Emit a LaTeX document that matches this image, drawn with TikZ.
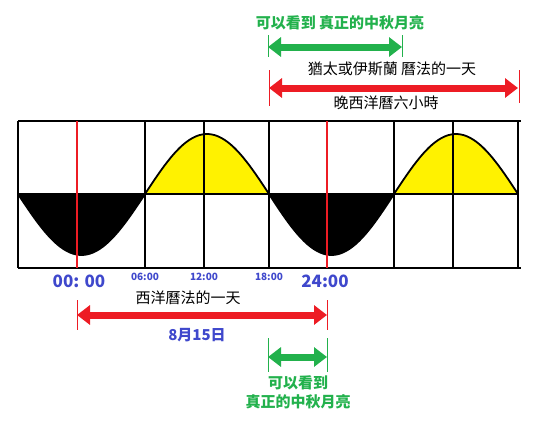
\documentclass[tikz,border=0pt]{standalone}
\usepackage{fontspec}
\usepackage{xcolor}
\usetikzlibrary{arrows.meta}
\newfontfamily\cjk{Noto Sans CJK TC}
\definecolor{dayred}{HTML}{ED1C24}
\definecolor{moongreen}{HTML}{22B14C}
\definecolor{timeblue}{HTML}{3F48CC}
\definecolor{sunyellow}{HTML}{FFF200}

\begin{document}
\begin{tikzpicture}[
    x=1pt, y=-1pt,
    gridline/.style={
        line width=2pt,
        black
    },
    midnight/.style={
        line width=1.5pt,
        dayred
    },
    wave/.style={
        line width=1.8pt,
        black,
        line join=round
    },
    spanarrow/.style={
        {Triangle[length=13pt,width=19pt]}-{Triangle[length=13pt,width=19pt]},
        line width=7pt
    },
    endmark/.style={
        line width=0.8pt
    },
    daytext/.style={
        inner sep=0pt,
        font=\cjk\fontsize{15}{19}\selectfont
    },
    moontext/.style={
        inner sep=0pt,
        align=center,
        text=moongreen,
        font=\cjk\bfseries\fontsize{15}{19}\selectfont
    },
    bigtime/.style={
        inner sep=0pt,
        text=timeblue,
        font=\cjk\bfseries\fontsize{17}{20}\selectfont
    },
    smalltime/.style={
        inner sep=0pt,
        text=timeblue,
        font=\cjk\bfseries\fontsize{10}{12}\selectfont
    }
]
\useasboundingbox (0,0) rectangle (560,432);

% Day and night waves
\foreach \a/\b/\s/\c in {18/145/61/black, 145/269/-60/sunyellow, 269/394/61/black, 394/518/-60/sunyellow}{
    \fill[\c] (\a,194) -- plot[domain=0:180,samples=40] ({\a+(\b-\a)/180*\x},{194+\s*sin(\x)}) -- cycle;
    \draw[wave] plot[domain=0:180,samples=40] ({\a+(\b-\a)/180*\x},{194+\s*sin(\x)});
}

% Grid
\draw[gridline] (18,121) -- (521,121);
\draw[gridline] (18,194) -- (518,194);
\draw[gridline] (18,268) -- (521,268);
\foreach \x in {18,145,204,269,394,453,518}
    \draw[gridline] (\x,121) -- (\x,268);

% Midnight lines
\draw[midnight] (77,121) -- (77,268);
\draw[midnight] (327,121) -- (327,268);

% Time labels
\node[bigtime] (t00) at (79,281) {00: 00};
\node[smalltime] (t06) at (145,277) {06:00};
\node[smalltime] (t12) at (204,277) {12:00};
\node[smalltime] (t18) at (269,277) {18:00};
\node[bigtime] (t24) at (325,281) {24:00};

% Western day
\coordinate (wdL) at (77,315);
\coordinate (wdR) at (327,315);
\draw[endmark, dayred] (77,300) -- (77,330);
\draw[endmark, dayred] (327,300) -- (327,330);
\draw[spanarrow, dayred] (wdL) -- (wdR);
\node[daytext] (wday) at (188,298) {西洋曆法的一天};
\node[bigtime, font=\cjk\bfseries\fontsize{15}{19}\selectfont] (wdate) at (197,335) {8月15日};

% Moon seen, below
\coordinate (mbL) at (268,357);
\coordinate (mbR) at (327,357);
\draw[endmark, moongreen] (268,338) -- (268,372);
\draw[endmark, moongreen] (327,338) -- (327,372);
\draw[spanarrow, moongreen] (mbL) -- (mbR);
\node[moontext] (mbtext) at (298,392) {可以看到\\真正的中秋月亮};

% Jewish or Islamic day
\coordinate (jdL) at (269,88);
\coordinate (jdR) at (518,88);
\draw[endmark, dayred] (269,70) -- (269,106);
\draw[endmark, dayred] (519,70) -- (519,103);
\draw[spanarrow, dayred] (jdL) -- (jdR);
\node[daytext] (jday) at (392,69) {猶太或伊斯蘭 曆法的一天};
\node[daytext] (jlate) at (386,103) {晚西洋曆六小時};

% Moon seen, above
\coordinate (mtL) at (268,47);
\coordinate (mtR) at (402,47);
\draw[endmark, moongreen] (268,35) -- (268,57);
\draw[endmark, moongreen] (402,35) -- (402,57);
\draw[spanarrow, moongreen] (mtL) -- (mtR);
\node[moontext] (mttext) at (340,23) {可以看到 真正的中秋月亮};

\end{tikzpicture}
\end{document}
